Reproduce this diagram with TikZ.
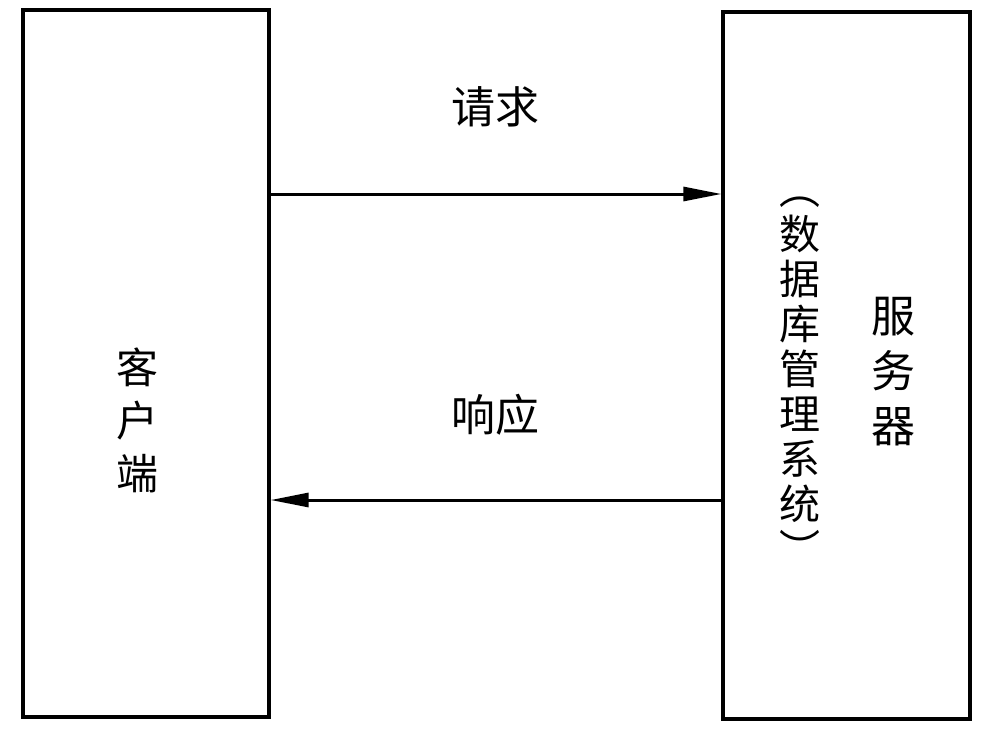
\documentclass[tikz,border=0pt]{standalone}
\usepackage{fontspec}
\newfontfamily\cjk{Noto Sans CJK SC}
\usetikzlibrary{arrows.meta,calc}
\begin{document}
\begin{tikzpicture}[x=1pt,y=-1pt,
  box/.style={draw=black,line width=3.2pt,rectangle,inner sep=0pt},
  arr/.style={line width=3pt,-{Triangle[length=38pt,width=14pt]}},
  lbl/.style={font=\cjk\fontsize{44}{50}\selectfont,inner sep=0pt},
  vlbl/.style={align=center,inner sep=0pt}]
\useasboundingbox[fill=white] (0,0) rectangle (992,744);
\node[box,minimum width=246pt,minimum height=707pt] (client) at (146,363.5) {};
\node[box,minimum width=247pt,minimum height=707pt] (server) at (846.5,365.5) {};
\coordinate (reqy) at (0,194);
\coordinate (resy) at (0,500);
\draw[arr] (client.east |- reqy) -- (server.west |- reqy);
\draw[arr] (server.west |- resy) -- (client.east |- resy);
\node[lbl] (req) at (495,107) {请求};
\node[lbl] (res) at (495,415) {响应};
\node[vlbl,font=\cjk\fontsize{42}{53}\selectfont] (clabel) at (137,420) {客\\户\\端};
\node[vlbl,font=\cjk\fontsize{44}{55}\selectfont] (slabel) at (893,372) {服\\务\\器};
\node[vlbl,font=\cjk\fontsize{41}{45}\selectfont] (dlabel) at (800,381) {︵\\数\\据\\库\\管\\理\\系\\统\\︶};
\end{tikzpicture}
\end{document}
